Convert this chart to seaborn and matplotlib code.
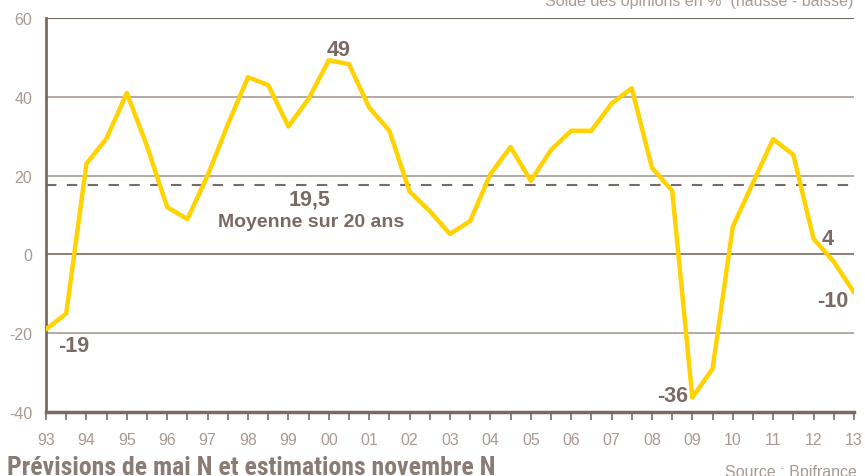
import numpy as np
import pandas as pd
import matplotlib
matplotlib.use("Agg")
import matplotlib.pyplot as plt
import seaborn as sns

# Données : solde des opinions (mai N et novembre N), 1993 -> 2013
annees = np.arange(1993, 2013.01, 0.5)
solde = [-19, -15, 23, 29.5, 41, 27.5, 12, 9, 20, 33, 45, 43, 32.5, 39.5,
         49.3, 48.3, 37.3, 31.4, 16, 11, 5.2, 8.5, 20.4, 27.3, 18.7, 26.5,
         31.4, 31.4, 38.3, 42.2, 22, 16.2, -36.3, -29, 7, 18.2, 29.3, 25.3,
         4, -1.8, -9.6]
moyenne_pos = 17.7
tick_annees = list(range(1993, 2014))
tick_labels = [f"{a % 100:02d}" for a in tick_annees]

df = pd.DataFrame({"annee": annees, "solde": solde})

brun = "#7b6a63"
gris = "#a89a95"
jaune = "#ffd200"

sns.set_theme(style="white")
plt.rcParams['font.family'] = ['Liberation Sans', 'DejaVu Sans']
plt.rcParams['axes.unicode_minus'] = False

fig = plt.figure(figsize=(8.65, 4.77), dpi=100)
ax = fig.add_axes([0.0532, 0.134, 0.934, 0.826])

# grille horizontale
for v in [-20, 20, 40]:
    ax.axhline(v, color=gris, lw=1.2, zorder=1)
ax.axhline(0, color=brun, lw=1.2, zorder=1)
ax.axhline(60, color=brun, lw=1.5, zorder=1)
ax.axhline(moyenne_pos, color=brun, lw=1.5, ls=(0, (5, 5)), zorder=2)

sns.lineplot(data=df, x="annee", y="solde", color=jaune, lw=3.2, ax=ax, zorder=3)

ax.set_xlim(1993, 2013)
ax.set_ylim(-40, 60)
ax.set_yticks([-40, -20, 0, 20, 40, 60])
ax.set_xticks(tick_annees)
ax.set_xticklabels(tick_labels)
ax.set_xticks(np.arange(1993.5, 2013, 1), minor=True)
ax.tick_params(axis='x', which='both', direction='out', length=6, width=1.2,
               color=brun, labelsize=11.5, labelcolor=gris, pad=8, bottom=True)
ax.tick_params(axis='y', length=0, labelsize=11.5, labelcolor=gris, pad=10)
ax.set_xlabel("")
ax.set_ylabel("")

for s in ["top", "right"]:
    ax.spines[s].set_visible(False)
ax.spines["left"].set_color(brun)
ax.spines["left"].set_linewidth(2)
ax.spines["bottom"].set_color(brun)
ax.spines["bottom"].set_linewidth(2.5)

lab = dict(color=brun, fontsize=15.5, fontweight='bold', ha='center', va='center')
ax.text(2000.25, 52.0, "49", **lab)
ax.text(1999.53, 14.0, "19,5", **lab)
ax.text(1999.57, 8.4, "Moyenne sur 20 ans", color=brun, fontsize=14,
        fontweight='bold', ha='center', va='center')
ax.text(1993.68, -23.2, "-19", **lab)
ax.text(2008.5, -35.8, "-36", **lab)
ax.text(2012.36, 4.0, "4", **lab)
ax.text(2012.48, -11.7, "-10", **lab)

fig.text(0.986, 0.997, "Solde des opinions en %  (hausse - baisse)",
         color=gris, fontsize=11.5, ha='right', va='center')
fig.text(0.008, 0.018, "Prévisions de mai N et estimations novembre N",
         color="#8a7b75", fontsize=18.5, fontweight='bold', ha='left', va='center',
         family=['Roboto Condensed', 'Roboto', 'DejaVu Sans'])
fig.text(0.991, 0.01, "Source : Bpifrance", color=gris, fontsize=11.5,
         ha='right', va='center')

fig.savefig("out.png", dpi=100)
